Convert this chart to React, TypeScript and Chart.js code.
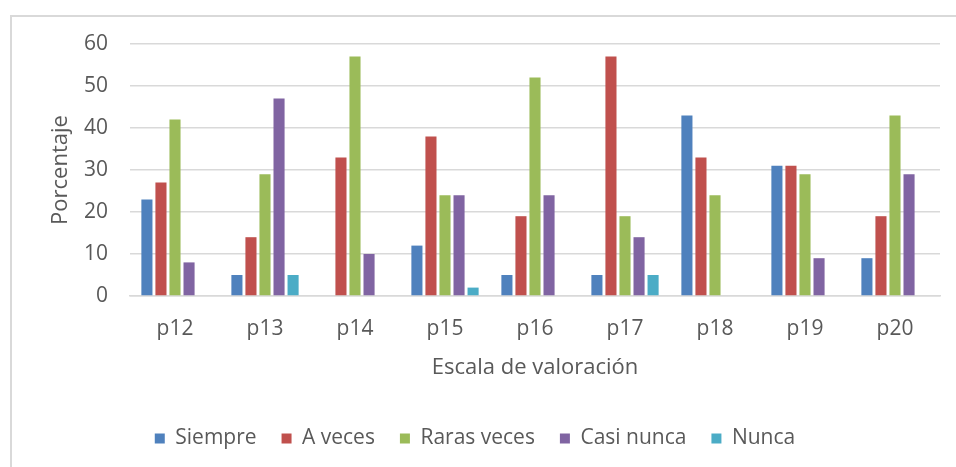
import React, { useEffect, useRef } from "react";
import { Chart, registerables } from "chart.js";

Chart.register(...registerables);

const categories = ["p12", "p13", "p14", "p15", "p16", "p17", "p18", "p19", "p20"];
const seriesNames = ["Siempre", "A veces", "Raras veces", "Casi nunca", "Nunca"];
const siempre = [23, 5, 0, 12, 5, 5, 43, 31, 9];
const aVeces = [27, 14, 33, 38, 19, 57, 33, 31, 19];
const rarasVeces = [42, 29, 57, 24, 52, 19, 24, 29, 43];
const casiNunca = [8, 47, 10, 24, 24, 14, 0, 9, 29];
const nunca = [0, 5, 0, 2, 0, 5, 0, 0, 0];
const seriesColors = ["#4F81BD", "#C0504D", "#9BBB59", "#8064A2", "#4BACC6"];
const yMin = 0;
const yMax = 60;
const yStep = 10;
const xTitle = "Escala de valoración";
const yTitle = "Porcentaje";

const FONT = "'Open Sans', sans-serif";
const TEXT = "#595959";

export default function App() {
  const ref = useRef<HTMLCanvasElement | null>(null);

  useEffect(() => {
    if (!ref.current) return;
    const values = [siempre, aVeces, rarasVeces, casiNunca, nunca];
    const chart = new Chart(ref.current, {
      type: "bar",
      data: {
        labels: categories,
        datasets: seriesNames.map((name, i) => ({
          label: name,
          data: values[i],
          backgroundColor: seriesColors[i],
          borderWidth: 0,
          barPercentage: 0.79,
          categoryPercentage: 0.78,
        })),
      },
      options: {
        responsive: false,
        animation: false,
        devicePixelRatio: 1,
        layout: { padding: { left: 10, top: 44, right: 16, bottom: 8 } },
        plugins: {
          tooltip: { enabled: false },
          legend: {
            position: "bottom",
            labels: {
              boxWidth: 10,
              boxHeight: 10,
              padding: 25,
              color: TEXT,
              font: { family: FONT, size: 21 },
            },
          },
        },
        scales: {
          x: {
            grid: { display: false },
            border: { display: true, color: "#d9d9d9", width: 1.5 },
            ticks: { color: TEXT, font: { family: FONT, size: 21 }, padding: 12, maxRotation: 0 },
            title: {
              display: true,
              text: xTitle,
              color: TEXT,
              font: { family: FONT, size: 22 },
              padding: { top: 0, bottom: 22 },
            },
            afterFit: (s: any) => {
              s.height = 107;
            },
          },
          y: {
            min: yMin,
            max: yMax,
            ticks: { stepSize: yStep, color: TEXT, font: { family: FONT, size: 21 }, padding: 22 },
            grid: { color: "#d9d9d9", lineWidth: 1.5, drawTicks: false },
            border: { display: false },
            title: {
              display: true,
              text: yTitle,
              color: TEXT,
              font: { family: FONT, size: 22 },
              padding: { top: 38, bottom: 0 },
            },
            afterFit: (s: any) => {
              s.width = 120;
            },
          },
        },
      },
    });
    return () => chart.destroy();
  }, []);

  return (
    <div style={{ position: "fixed", left: 0, top: 0, width: 956, height: 467, overflow: "hidden", background: "#fff" }}>
      <div
        style={{
          position: "absolute",
          left: 10,
          top: 15,
          width: 960,
          height: 470,
          borderLeft: "2px solid #d9d9d9",
          borderTop: "2px solid #d9d9d9",
          boxSizing: "border-box",
        }}
      />
      <canvas ref={ref} width={956} height={467} style={{ position: "absolute", left: 0, top: 0 }} />
    </div>
  );
}
